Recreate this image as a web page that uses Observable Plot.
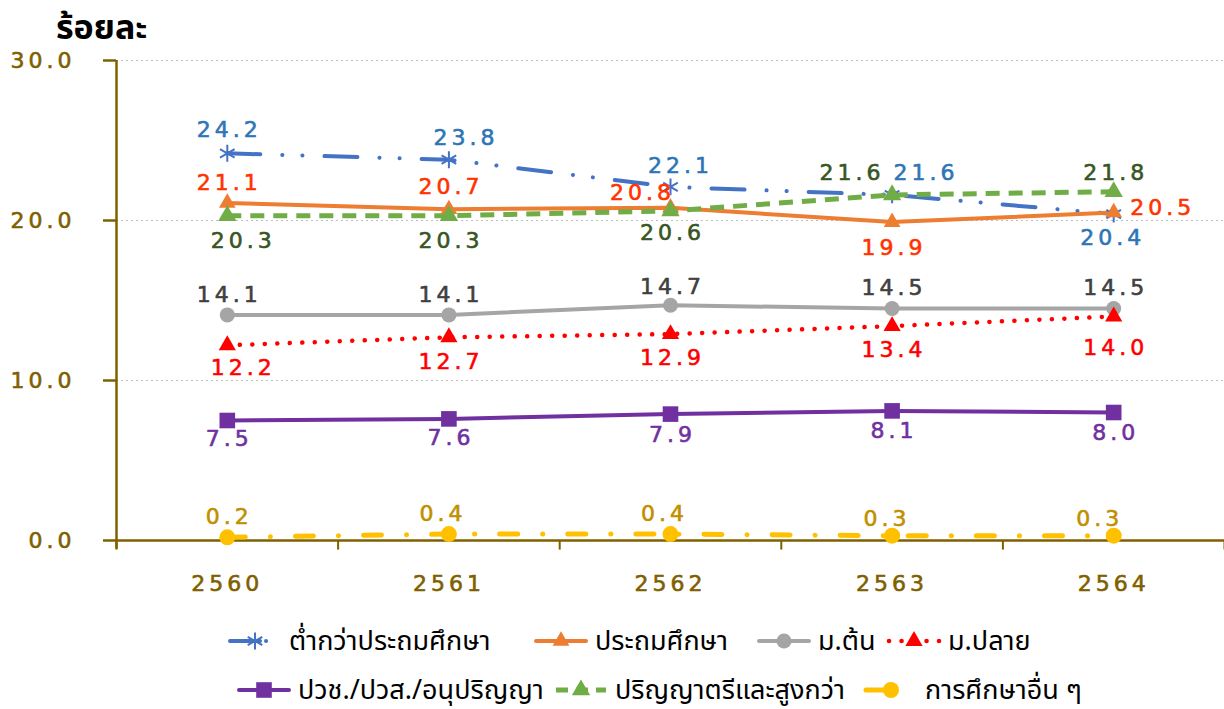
<!DOCTYPE html>
<html>
<head>
<meta charset="utf-8">
<script src="https://cdn.jsdelivr.net/npm/d3@7"></script>
<script src="https://cdn.jsdelivr.net/npm/@observablehq/plot@0.6"></script>
<style>
  html, body { margin: 0; padding: 0; background: #fff; overflow: hidden; }
  body { width: 1224px; height: 709px; position: relative; font-family: "Noto Sans Thai", "Noto Sans", "DejaVu Sans", sans-serif; }
  #ylabel { position: absolute; left: 56px; top: 17px; font-family: "Liberation Sans", "Noto Sans Thai", sans-serif; font-size: 34px; font-weight: bold; color: #000; line-height: 20px; height: 20px; white-space: nowrap; }
  #legend { position: absolute; left: 0; top: 0; width: 1224px; height: 709px; pointer-events: none; }
  .item { position: absolute; display: flex; align-items: center; font-size: 27px; color: #000; height: 40px; white-space: nowrap; }
  .item svg { margin-right: 6px; }
</style>
</head>
<body>
<div id="chart"></div>
<div id="ylabel"></div>
<div id="legend"></div>
<script>
// ---- data ----
const years = ["2560", "2561", "2562", "2563", "2564"];
const seriesNames = ["ต่ำกว่าประถมศึกษา", "ประถมศึกษา", "ม.ต้น", "ม.ปลาย", "ปวช./ปวส./อนุปริญญา", "ปริญญาตรีและสูงกว่า", "การศึกษาอื่น ๆ"];
const belowPrimary   = [24.2, 23.8, 22.1, 21.6, 20.4];
const primary        = [21.1, 20.7, 20.8, 19.9, 20.5];
const lowerSecondary = [14.1, 14.1, 14.7, 14.5, 14.5];
const upperSecondary = [12.2, 12.7, 12.9, 13.4, 14.0];
const vocational     = [7.5, 7.6, 7.9, 8.1, 8.0];
const bachelor       = [20.3, 20.3, 20.6, 21.6, 21.8];
const otherEdu       = [0.2, 0.4, 0.4, 0.3, 0.3];
const yTicks = [0, 10, 20, 30];
const yTitle = "ร้อยละ";

const seriesValues = [belowPrimary, primary, lowerSecondary, upperSecondary, vocational, bachelor, otherEdu];

// ---- styles (appearance only) ----
const styles = [
  {stroke: "#4472C4", width: 4, dash: "33,22,0.1,20,0.1,22", cap: "round", symbol: "asterisk", r: 8, mfill: "none", mstroke: "#4472C4", mw: 2, label: "#2E75B6",
   off: [[0, -23], [15, -22], [8, -21], [32, -22], [-3, 24]], legend: [227, 641], ldash: "30,6,0.1,40"},
  {stroke: "#ED7D31", width: 4, dash: null, cap: "round", symbol: "triangle", r: 6.2, mfill: "#ED7D31", mstroke: "none", mw: 0, label: "#FF3300",
   off: [[0, -20], [0, -22], [-30, -15], [0, 26], [47, -5]], legend: [533, 641]},
  {stroke: "#A5A5A5", width: 4, dash: null, cap: "round", symbol: "circle", r: 7.5, mfill: "#A5A5A5", mstroke: "none", mw: 0, label: "#404040",
   off: [[0, -20], [0, -20], [0, -18], [0, -21], [0, -21]], legend: [756, 641]},
  {stroke: "#FF0000", width: 4.5, dash: "0.1,12.4", cap: "round", symbol: "triangle", r: 6.4, mfill: "#FF0000", mstroke: "none", mw: 0, label: "#FF0000",
   off: [[14, 23], [0, 25], [0, 24], [0, 24], [0, 31]], legend: [886, 641]},
  {stroke: "#7030A0", width: 4, dash: null, cap: "round", symbol: "square", r: 8.8, mfill: "#7030A0", mstroke: "none", mw: 0, label: "#7030A0",
   off: [[0, 18], [0, 19], [0, 21], [0, 20], [0, 20]], legend: [236, 690]},
  {stroke: "#70AD47", width: 5, dash: "14,9", cap: "butt", symbol: "triangle", r: 6.8, mfill: "#70AD47", mstroke: "none", mw: 0, label: "#375623",
   off: [[14, 25], [0, 25], [0, 22], [-42, -22], [0, -19]], legend: [553, 690], ldash: "12,8"},
  {stroke: "#FFC000", width: 5, dash: "18,25,0.1,25", cap: "round", symbol: "circle", r: 8, mfill: "#FFC000", mstroke: "none", mw: 0, label: "#BF9000",
   off: [[0, -20], [-8, -20], [-8, -20], [-7, -17], [-16, -17]], legend: [863, 690], ldash: "20,40"}
];

const rows = [];
seriesValues.forEach((vals, si) => vals.forEach((v, i) => rows.push({series: seriesNames[si], si, i, year: years[i], value: v})));

const bounds = d3.range(years.length + 1).map(i => i - 0.5);
const axisColor = "#7F6000";
const numFont = "'DejaVu Sans', sans-serif";

const marks = [
  Plot.ruleY(yTicks.filter(d => d > 0), {stroke: "#BFBFBF", strokeWidth: 1, strokeDasharray: "2,3"}),
  Plot.ruleY([0], {x1: bounds[0], x2: bounds[bounds.length - 1], stroke: axisColor, strokeWidth: 2.5}),
  Plot.ruleX([bounds[0]], {y1: -0.55, y2: yTicks[yTicks.length - 1], stroke: axisColor, strokeWidth: 2.5}),
  Plot.ruleX(bounds, {y1: -0.6, y2: 0, stroke: axisColor, strokeWidth: 2}),
  Plot.axisY(yTicks, {tickSize: 13, tickPadding: 28, tickFormat: d => d.toFixed(1), fontSize: 22, stroke: axisColor, strokeWidth: 2.5, fill: "#7F6000", label: null, className: "num"}),
  Plot.axisX(d3.range(years.length), {tickSize: 0, tickPadding: 35, tickFormat: i => years[i], fontSize: 22, fill: "#7F6000", label: null, className: "num"})
];

styles.forEach((s, si) => {
  const data = rows.filter(d => d.si === si);
  marks.push(Plot.line(data, {x: "i", y: "value", stroke: s.stroke, strokeWidth: s.width, strokeDasharray: s.dash, strokeLinecap: s.cap, strokeLinejoin: "round"}));
});
styles.forEach((s, si) => {
  const data = rows.filter(d => d.si === si);
  marks.push(Plot.dot(data, {x: "i", y: "value", symbol: () => s.symbol, r: s.r, fill: s.mfill, stroke: s.mstroke, strokeWidth: s.mw}));
});
styles.forEach((s, si) => {
  rows.filter(d => d.si === si).forEach(d => {
    marks.push(Plot.text([d], {x: "i", y: "value", text: r => r.value.toFixed(1), dx: s.off[d.i][0] + 2, dy: s.off[d.i][1],
      fill: s.label, stroke: s.label, strokeWidth: 0.6, fontSize: 22, className: "num"}));
  });
});

const chart = Plot.plot({
  width: 1224,
  height: 610,
  marginLeft: 116,
  marginRight: 0,
  marginTop: 60,
  marginBottom: 70,
  x: {type: "linear", domain: [bounds[0], bounds[bounds.length - 1]], label: null},
  y: {domain: [yTicks[0], yTicks[yTicks.length - 1]], label: null},
  symbol: {type: "identity"},
  style: {fontFamily: "DejaVu Sans, sans-serif", background: "transparent", overflow: "visible"},
  marks
});
document.getElementById("chart").append(chart);
const numTexts = d3.select(chart).selectAll(".num text, text.num");
numTexts.style("letter-spacing", "4px").style("font-family", numFont);
// thicken axis tick label strokes to match the reference's heavier digits
d3.select(chart).selectAll("g[aria-label='y-axis tick label'], g[aria-label='x-axis tick label']")
  .attr("stroke", "#7F6000").attr("stroke-width", 0.6);

document.getElementById("ylabel").textContent = yTitle;

// ---- legend ----
const symbolTypes = {asterisk: d3.symbolAsterisk, triangle: d3.symbolTriangle, square: d3.symbolSquare, circle: d3.symbolCircle};
function swatch(s) {
  const w = 56, h = 26, cy = h / 2;
  const path = d3.symbol().type(symbolTypes[s.symbol]).size(Math.PI * s.r * s.r)();
  const dash = s.ldash || s.dash;
  return `<svg width="${w}" height="${h}">
    <line x1="3" x2="${w - 3}" y1="${cy}" y2="${cy}" stroke="${s.stroke}" stroke-width="${s.width}" ${dash ? `stroke-dasharray="${dash}"` : ""} stroke-linecap="${s.cap}"/>
    <path d="${path}" transform="translate(${w / 2},${cy})" fill="${s.mfill}" stroke="${s.mstroke}" stroke-width="${s.mw}"/>
  </svg>`;
}
document.getElementById("legend").innerHTML = styles.map((s, si) =>
  `<span class="item" style="left:${s.legend[0]}px;top:${s.legend[1] - 20}px">${swatch(s)}<span>${seriesNames[si]}</span></span>`
).join("");
</script>
</body>
</html>
